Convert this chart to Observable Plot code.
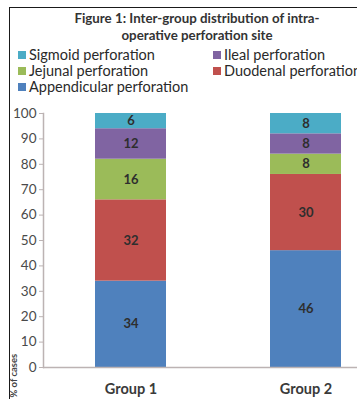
<!DOCTYPE html>
<html>
<head>
<meta charset="utf-8">
<script src="https://cdn.jsdelivr.net/npm/d3@7"></script>
<script src="https://cdn.jsdelivr.net/npm/@observablehq/plot@0.6"></script>
<style>
  body { margin: 0; background: #fff; font-family: Lato, "Open Sans", sans-serif; }
  #wrap { position: relative; width: 357px; height: 399px; overflow: hidden; background: #fff; }
  #border { position: absolute; left: 9px; top: 7px; width: 400px; height: 400px; border-left: 1.5px solid #1a1a1a; border-top: 1.5px solid #1a1a1a; }
  #title { position: absolute; left: 0; width: 394px; top: 10px; text-align: center; font-weight: bold; font-size: 13.3px; line-height: 16.5px; color: #333; }
  .leg { position: absolute; font-size: 14.5px; color: #2a2a2a; white-space: nowrap; line-height: 16px; }
  .leg span.sw { display: inline-block; width: 8px; height: 8px; margin-right: 3px; vertical-align: 1px; }
  #chart { position: absolute; left: 0; top: 100px; }
</style>
</head>
<body>
<div id="wrap">
  <div id="border"></div>
  <div id="title">Figure 1: Inter-group distribution of intra-<br>operative perforation site</div>
  <div id="legend"></div>
  <div id="chart"></div>
</div>
<script>
const groups = ["Group 1", "Group 2"];
const sites = ["Appendicular perforation", "Duodenal perforation", "Jejunal perforation", "Ileal perforation", "Sigmoid perforation"];
const colors = ["#4f81bd", "#c0504d", "#9bbb59", "#8064a2", "#4bacc6"];
const group1 = [34, 32, 16, 12, 6];
const group2 = [46, 30, 8, 8, 8];
const yTicks = [0, 10, 20, 30, 40, 50, 60, 70, 80, 90, 100];

// legend layout (order as in reference)
const legendItems = [
  {name: "Sigmoid perforation", left: 18, top: 47},
  {name: "Ileal perforation", left: 213, top: 47},
  {name: "Jejunal perforation", left: 18, top: 63},
  {name: "Duodenal perforation", left: 213, top: 63},
  {name: "Appendicular perforation", left: 18, top: 79}
];
const legend = document.getElementById("legend");
for (const it of legendItems) {
  const d = document.createElement("div");
  d.className = "leg";
  d.style.left = it.left + "px";
  d.style.top = it.top + "px";
  const sw = document.createElement("span");
  sw.className = "sw";
  sw.style.background = colors[sites.indexOf(it.name)];
  d.appendChild(sw);
  d.appendChild(document.createTextNode(it.name));
  legend.appendChild(d);
}

const data = [];
groups.forEach((g, gi) => {
  const vals = gi === 0 ? group1 : group2;
  sites.forEach((s, si) => data.push({group: g, site: s, value: vals[si]}));
});

const chart = Plot.plot({
  width: 357,
  height: 299,
  marginTop: 13,
  marginBottom: 32,
  marginLeft: 43,
  marginRight: 0,
  style: {fontFamily: "Lato, 'Open Sans', sans-serif", background: "transparent"},
  x: {domain: groups, range: [43, 393], paddingInner: 0.594, paddingOuter: 0.297, axis: null},
  y: {domain: [0, 100], axis: null},
  color: {domain: sites, range: colors},
  marks: [
    Plot.barY(data, {x: "group", y: "value", fill: "site", z: "site", order: sites}),
    Plot.text(data, Plot.stackY({x: "group", y: "value", z: "site", order: sites, text: d => String(d.value), fill: "#2e2e2e", fontSize: 13, fontWeight: "bold"})),
    Plot.axisY({ticks: yTicks, tickSize: 4, tickPadding: 3, fontSize: 13.5, color: "#4a4a4a", stroke: "#bcb3b3", label: null}),
    Plot.frame({anchor: "left", stroke: "#bcb3b3", strokeWidth: 1.5}),
    Plot.ruleY([0], {stroke: "#bcb3b3", strokeWidth: 1.5}),
    Plot.axisX({tickSize: 0, tickPadding: 16, fontSize: 14.5, fontWeight: "bold", color: "#3a3a3a", label: null}),
    Plot.text(["% of cases"], {frameAnchor: "bottom-left", dx: -27, dy: 30, rotate: -90, textAnchor: "start", fontSize: 9.5, fontWeight: "bold", fill: "#444"})
  ]
});
document.getElementById("chart").appendChild(chart);
</script>
</body>
</html>
